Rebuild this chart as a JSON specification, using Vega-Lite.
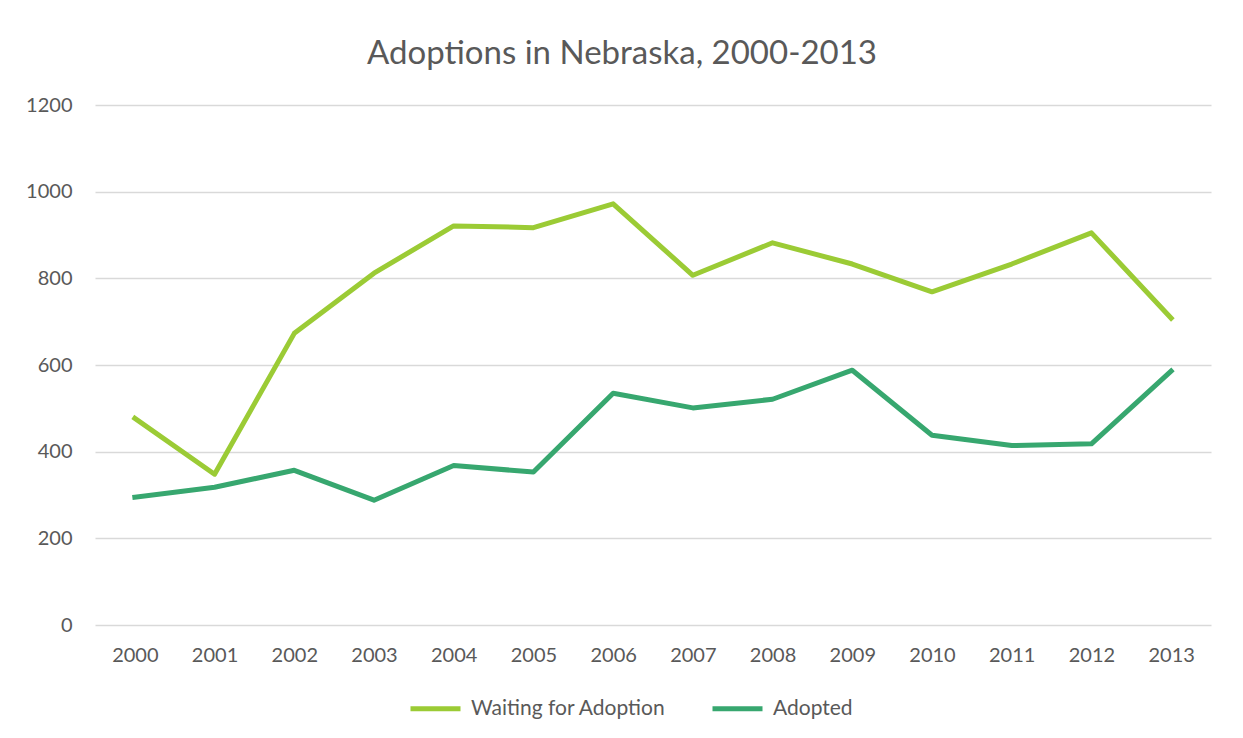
{
  "$schema": "https://vega.github.io/schema/vega-lite/v6.json",
  "width": 1116,
  "height": 520,
  "autosize": "none",
  "padding": {"left": 95, "top": 105, "right": 32, "bottom": 113},
  "background": "white",
  "title": {
    "text": "Adoptions in Nebraska, 2000-2013",
    "font": "Lato",
    "fontSize": 33,
    "fontWeight": "normal",
    "color": "#595959",
    "anchor": "middle",
    "dx": -31,
    "offset": 24
  },
  "data": {
    "values": [
      {"year": "2000", "series": "Waiting for Adoption", "value": 477},
      {"year": "2001", "series": "Waiting for Adoption", "value": 348},
      {"year": "2002", "series": "Waiting for Adoption", "value": 673},
      {"year": "2003", "series": "Waiting for Adoption", "value": 812},
      {"year": "2004", "series": "Waiting for Adoption", "value": 921},
      {"year": "2005", "series": "Waiting for Adoption", "value": 917},
      {"year": "2006", "series": "Waiting for Adoption", "value": 972},
      {"year": "2007", "series": "Waiting for Adoption", "value": 807},
      {"year": "2008", "series": "Waiting for Adoption", "value": 882},
      {"year": "2009", "series": "Waiting for Adoption", "value": 833},
      {"year": "2010", "series": "Waiting for Adoption", "value": 769},
      {"year": "2011", "series": "Waiting for Adoption", "value": 833},
      {"year": "2012", "series": "Waiting for Adoption", "value": 905},
      {"year": "2013", "series": "Waiting for Adoption", "value": 708},
      {"year": "2000", "series": "Adopted", "value": 295},
      {"year": "2001", "series": "Adopted", "value": 318},
      {"year": "2002", "series": "Adopted", "value": 357},
      {"year": "2003", "series": "Adopted", "value": 288},
      {"year": "2004", "series": "Adopted", "value": 368},
      {"year": "2005", "series": "Adopted", "value": 353},
      {"year": "2006", "series": "Adopted", "value": 535},
      {"year": "2007", "series": "Adopted", "value": 501},
      {"year": "2008", "series": "Adopted", "value": 521},
      {"year": "2009", "series": "Adopted", "value": 588},
      {"year": "2010", "series": "Adopted", "value": 438},
      {"year": "2011", "series": "Adopted", "value": 414},
      {"year": "2012", "series": "Adopted", "value": 418},
      {"year": "2013", "series": "Adopted", "value": 586}
    ]
  },
  "mark": {"type": "line", "strokeWidth": 5, "strokeCap": "square", "strokeJoin": "round"},
  "encoding": {
    "x": {
      "field": "year",
      "type": "ordinal",
      "scale": {"type": "point", "padding": 0.5},
      "axis": {
        "title": null,
        "labelAngle": 0,
        "labelFont": "Lato",
        "labelFontSize": 20,
        "labelColor": "#595959",
        "labelPadding": 20,
        "ticks": false,
        "domain": false,
        "grid": false
      }
    },
    "y": {
      "field": "value",
      "type": "quantitative",
      "scale": {"domain": [0, 1200]},
      "axis": {
        "title": null,
        "values": [0, 200, 400, 600, 800, 1000, 1200],
        "format": "d",
        "labelFont": "Lato",
        "labelFontSize": 20,
        "labelColor": "#595959",
        "labelPadding": 23,
        "ticks": false,
        "domain": false,
        "gridColor": "#D9D9D9",
        "gridWidth": 1.5
      }
    },
    "color": {
      "field": "series",
      "type": "nominal",
      "scale": {
        "domain": ["Waiting for Adoption", "Adopted"],
        "range": ["#9BCB35", "#37A76F"]
      },
      "legend": {
        "title": null,
        "orient": "none",
        "direction": "horizontal",
        "legendX": 313,
        "legendY": 576,
        "symbolType": "stroke",
        "symbolSize": 2500,
        "symbolStrokeWidth": 5,
        "labelFont": "Lato",
        "labelFontSize": 21,
        "labelColor": "#595959",
        "labelLimit": 400,
        "columnPadding": 36,
        "labelOffset": 8
      }
    }
  },
  "config": {
    "view": {"stroke": null}
  }
}
